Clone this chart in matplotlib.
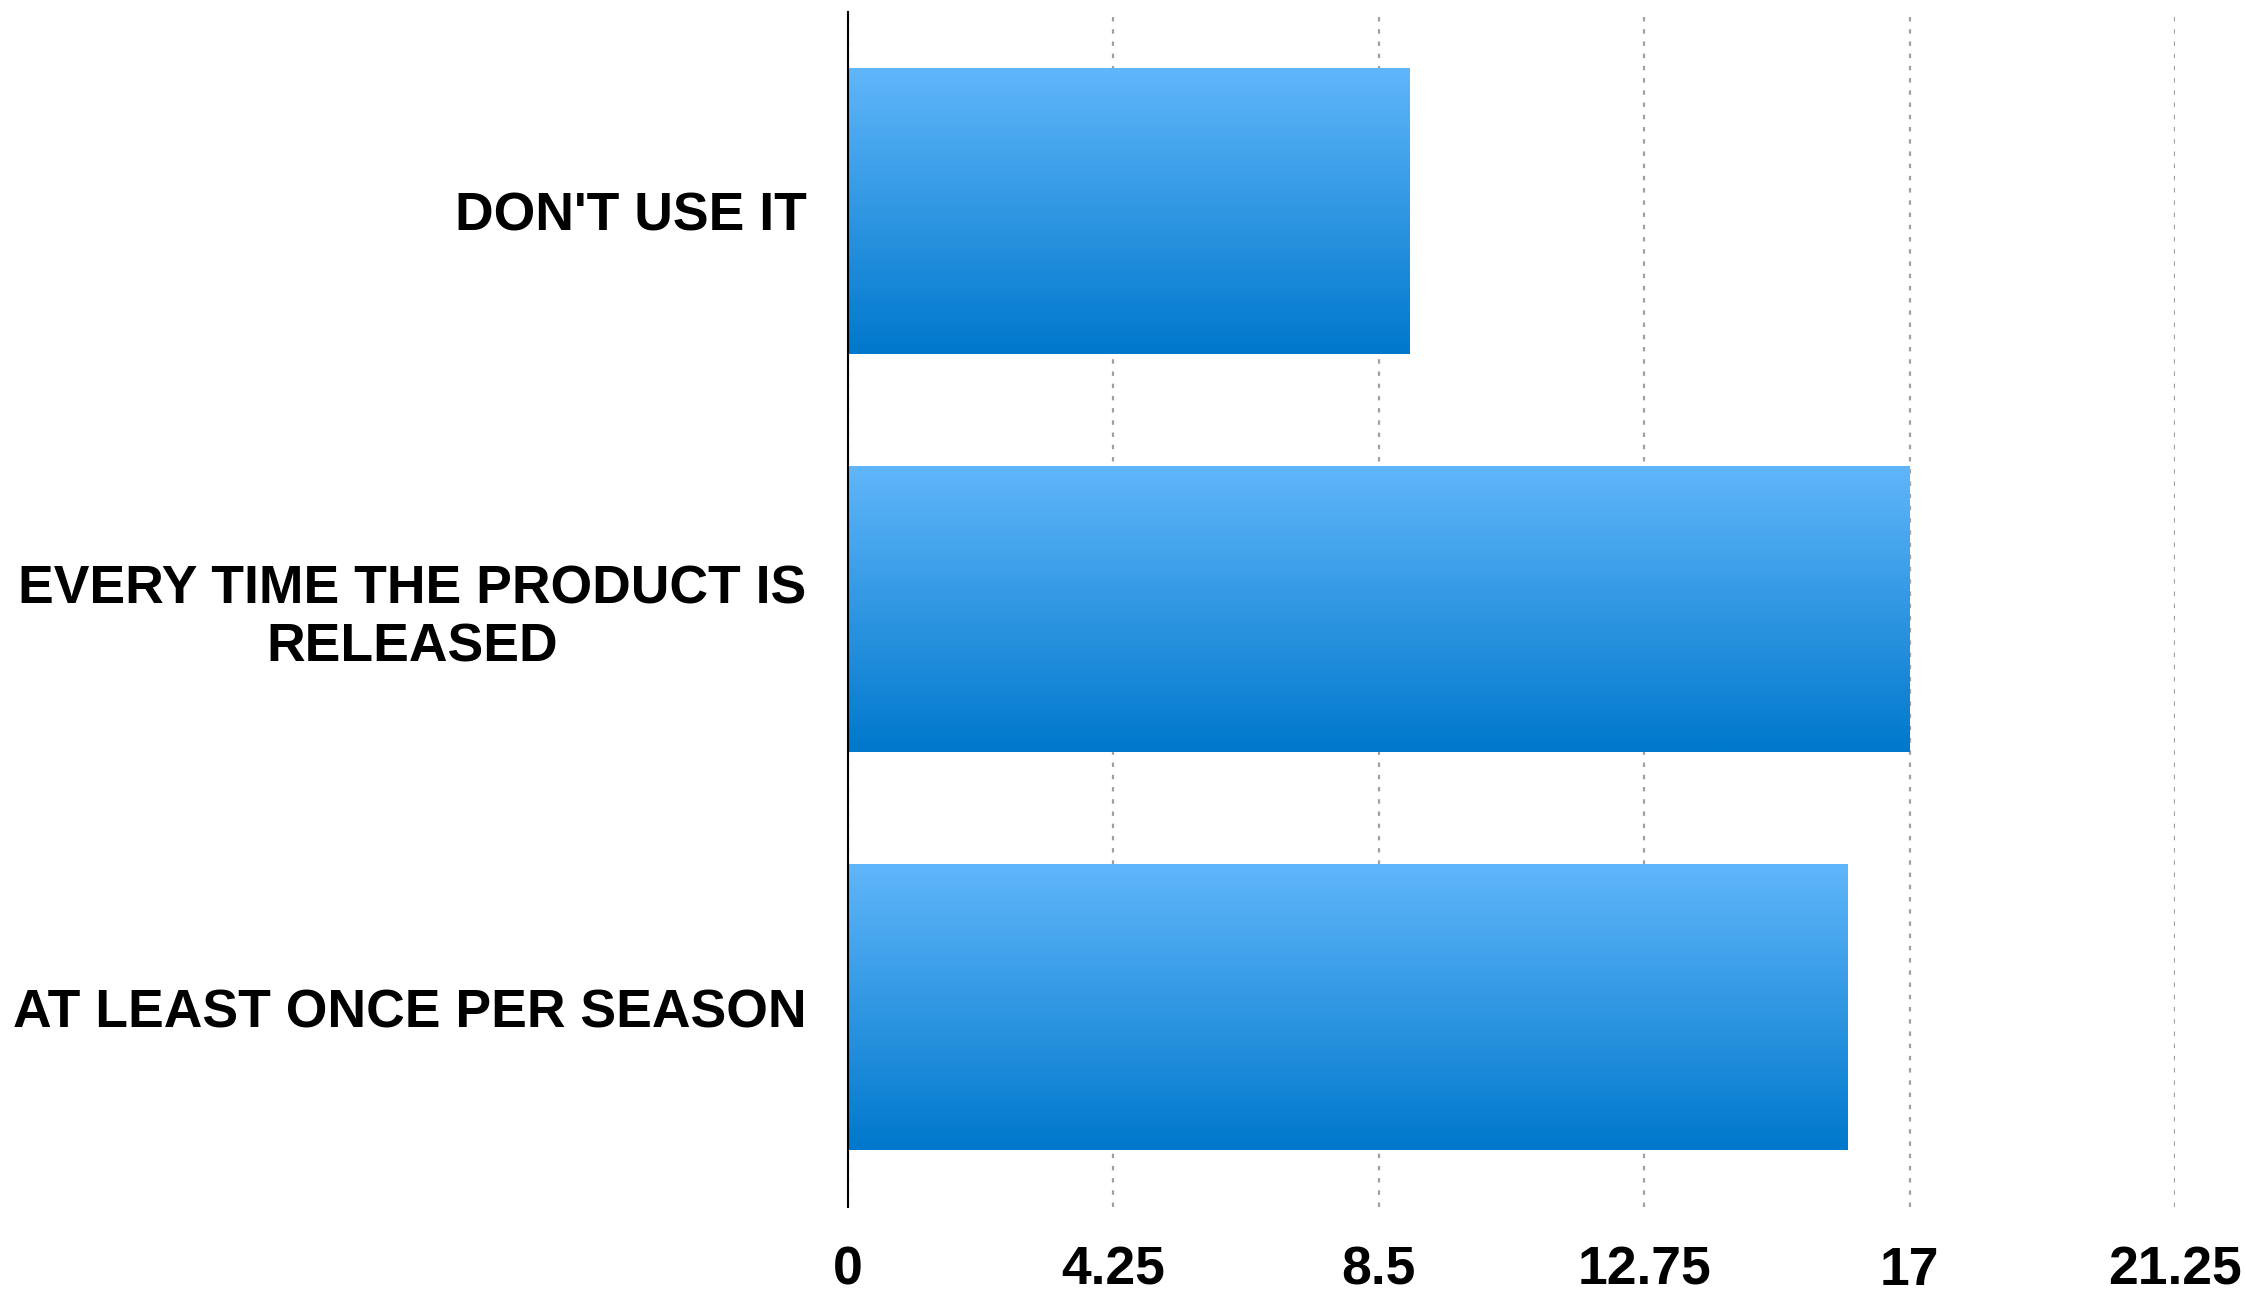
import numpy as np
import matplotlib
matplotlib.use("Agg")
import matplotlib.pyplot as plt
from matplotlib.colors import LinearSegmentedColormap


categories = [
    "DON'T USE IT",
    "EVERY TIME THE PRODUCT IS\nRELEASED",
    "AT LEAST ONCE PER SEASON",
]
values = [9, 17, 16]
x_ticks = [0, 4.25, 8.5, 12.75, 17, 21.25]
x_tick_labels = ["0", "4.25", "8.5", "12.75", "17", "21.25"]

OUTPUT_PATH = "out.png"


def build_chart():
    plt.rcParams["font.family"] = ["Liberation Sans", "DejaVu Sans"]

    fig = plt.figure(figsize=(22.46, 12.95), dpi=100)
    ax = fig.add_axes([0.3776, 0.068, 0.5908, 0.923])

    positions = np.arange(len(categories))
    bars = ax.barh(positions, values, height=0.716, color="none", zorder=3)

    cmap = LinearSegmentedColormap.from_list("blue_grad", ["#0078cc", "#60b6fa"])
    # light on top, dark at the bottom of each bar
    gradient = np.linspace(1, 0, 256).reshape(-1, 1)

    for bar in bars:
        x0, y0 = bar.get_x(), bar.get_y()
        w, h = bar.get_width(), bar.get_height()
        ax.imshow(
            gradient,
            cmap=cmap,
            aspect="auto",
            extent=[x0, x0 + w, y0 + h, y0],
            origin="upper",
            zorder=3,
            interpolation="bicubic",
        )

    ax.set_ylim(len(categories) - 0.5, -0.5)
    ax.set_xlim(0, 21.25)

    ax.set_yticks(positions)
    ax.set_yticklabels(categories, fontsize=38.5, fontweight="bold", ha="right",
                       multialignment="center")
    ax.set_xticks(x_ticks)
    ax.set_xticklabels(x_tick_labels, fontsize=38.5, fontweight="bold")

    ax.tick_params(axis="y", length=0, pad=30)
    ax.tick_params(axis="x", length=0, pad=28)

    ax.grid(axis="x", color="#a0a0a0", linestyle=(0, (2, 3.5)), linewidth=1.6, zorder=1)
    ax.set_axisbelow(True)

    for side in ["top", "right", "bottom"]:
        ax.spines[side].set_visible(False)
    ax.spines["left"].set_color("black")
    ax.spines["left"].set_linewidth(1.5)
    ax.spines["left"].set_zorder(5)

    fig.savefig(OUTPUT_PATH, dpi=100, facecolor="white")
    plt.close(fig)


if __name__ == "__main__":
    build_chart()
